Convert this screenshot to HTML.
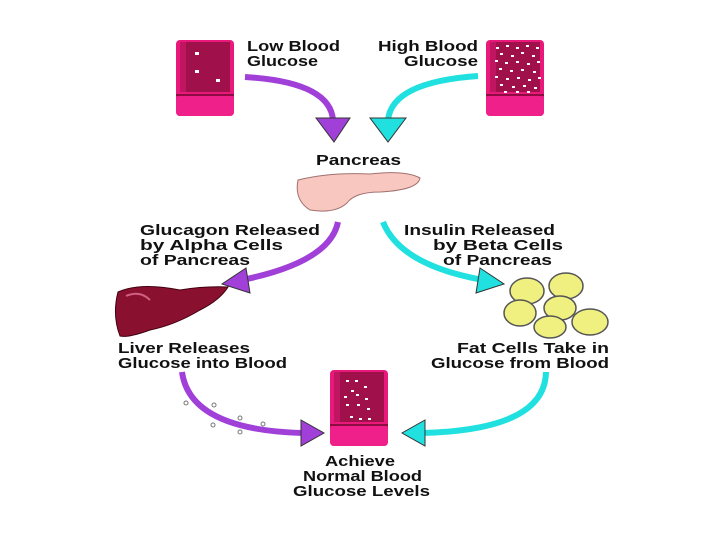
<!DOCTYPE html>
<html><head><style>
body{margin:0;background:#fff;}
svg text{font-family:"Liberation Sans",sans-serif;font-weight:bold;font-size:15px;fill:#111;}
</style></head><body>
<svg width="720" height="540" viewBox="0 0 720 540" xmlns="http://www.w3.org/2000/svg">
<defs>
<g id="tube">
<rect x="0" y="0" width="58" height="76" rx="4" fill="#e8197a"/>
<rect x="4" y="2" width="50" height="50" fill="#a0104a"/>
<rect x="4" y="2" width="6" height="50" fill="#c01560"/>
<rect x="0" y="56" width="58" height="20" rx="4" fill="#f0208a"/>
<line x1="0" y1="55" x2="58" y2="55" stroke="#700830" stroke-width="1.5"/>
</g>
</defs>
<use href="#tube" x="176" y="40"/>
<g fill="#fff"><rect x="195" y="52" width="4" height="3"/><rect x="195" y="70" width="4" height="3"/><rect x="216" y="79" width="4" height="3"/></g>
<use href="#tube" x="486" y="40"/>
<g fill="#fff">
<rect x="496" y="47" width="3" height="2"/><rect x="506" y="45" width="3" height="2"/><rect x="516" y="47" width="3" height="2"/><rect x="526" y="45" width="3" height="2"/><rect x="536" y="47" width="3" height="2"/>
<rect x="500" y="53" width="3" height="2"/><rect x="511" y="55" width="3" height="2"/><rect x="521" y="52" width="3" height="2"/><rect x="532" y="55" width="3" height="2"/>
<rect x="495" y="60" width="3" height="2"/><rect x="505" y="62" width="3" height="2"/><rect x="516" y="61" width="3" height="2"/><rect x="527" y="63" width="3" height="2"/><rect x="537" y="61" width="3" height="2"/>
<rect x="499" y="68" width="3" height="2"/><rect x="510" y="70" width="3" height="2"/><rect x="521" y="69" width="3" height="2"/><rect x="533" y="71" width="3" height="2"/>
<rect x="495" y="76" width="3" height="2"/><rect x="506" y="78" width="3" height="2"/><rect x="517" y="77" width="3" height="2"/><rect x="528" y="79" width="3" height="2"/><rect x="538" y="77" width="3" height="2"/>
<rect x="500" y="84" width="3" height="2"/><rect x="512" y="86" width="3" height="2"/><rect x="523" y="85" width="3" height="2"/><rect x="534" y="87" width="3" height="2"/>
<rect x="504" y="91" width="3" height="2"/><rect x="516" y="91" width="3" height="2"/><rect x="527" y="91" width="3" height="2"/>
</g>
<use href="#tube" x="330" y="370"/>
<g fill="#fff">
<rect x="346" y="380" width="3" height="2"/><rect x="355" y="380" width="3" height="2"/><rect x="351" y="390" width="3" height="2"/><rect x="364" y="386" width="3" height="2"/><rect x="344" y="396" width="3" height="2"/><rect x="356" y="394" width="3" height="2"/><rect x="365" y="398" width="3" height="2"/><rect x="346" y="404" width="3" height="2"/><rect x="357" y="404" width="3" height="2"/><rect x="367" y="408" width="3" height="2"/><rect x="350" y="416" width="3" height="2"/><rect x="359" y="418" width="3" height="2"/><rect x="368" y="418" width="3" height="2"/>
</g>
<!-- labels -->
<text x="247" y="51" textLength="93" lengthAdjust="spacingAndGlyphs">Low Blood</text>
<text x="247" y="66" textLength="71" lengthAdjust="spacingAndGlyphs">Glucose</text>
<text x="378" y="51" textLength="100" lengthAdjust="spacingAndGlyphs">High Blood</text>
<text x="404" y="66" textLength="74" lengthAdjust="spacingAndGlyphs">Glucose</text>
<text x="316" y="165" textLength="85" lengthAdjust="spacingAndGlyphs">Pancreas</text>
<text x="140" y="235" textLength="180" lengthAdjust="spacingAndGlyphs">Glucagon Released</text>
<text x="140" y="250" textLength="143" lengthAdjust="spacingAndGlyphs">by Alpha Cells</text>
<text x="140" y="265" textLength="110" lengthAdjust="spacingAndGlyphs">of Pancreas</text>
<text x="404" y="235" textLength="151" lengthAdjust="spacingAndGlyphs">Insulin Released</text>
<text x="433" y="250" textLength="130" lengthAdjust="spacingAndGlyphs">by Beta Cells</text>
<text x="443" y="265" textLength="109" lengthAdjust="spacingAndGlyphs">of Pancreas</text>
<text x="118" y="353" textLength="132" lengthAdjust="spacingAndGlyphs">Liver Releases</text>
<text x="118" y="368" textLength="169" lengthAdjust="spacingAndGlyphs">Glucose into Blood</text>
<text x="457" y="353" textLength="152" lengthAdjust="spacingAndGlyphs">Fat Cells Take in</text>
<text x="431" y="368" textLength="178" lengthAdjust="spacingAndGlyphs">Glucose from Blood</text>
<text x="325" y="466" textLength="70" lengthAdjust="spacingAndGlyphs">Achieve</text>
<text x="303" y="481" textLength="119" lengthAdjust="spacingAndGlyphs">Normal Blood</text>
<text x="293" y="496" textLength="137" lengthAdjust="spacingAndGlyphs">Glucose Levels</text>
<!-- arrows -->
<g fill="none" stroke-width="6">
<path d="M245 77 Q330 82 333 120" stroke="#a040d8"/>
<path d="M478 76 Q392 82 388 120" stroke="#20e0e0"/>
<path d="M338 222 Q330 262 242 280" stroke="#a040d8"/>
<path d="M383 222 Q400 265 483 280" stroke="#20e0e0"/>
<path d="M182 372 Q190 430 303 433" stroke="#a040d8"/>
<path d="M546 372 Q545 430 422 433" stroke="#20e0e0"/>
</g>
<g stroke="#333" stroke-width="1">
<path d="M316 118 L350 118 L334 142 Z" fill="#a040d8"/>
<path d="M370 118 L406 118 L388 142 Z" fill="#20e0e0"/>
<path d="M246 268 L222 284 L250 293 Z" fill="#a040d8"/>
<path d="M480 268 L504 284 L476 293 Z" fill="#20e0e0"/>
<path d="M301 420 L324 433 L301 446 Z" fill="#a040d8"/>
<path d="M425 420 L402 433 L425 446 Z" fill="#20e0e0"/>
</g>
<g fill="none" stroke="#777" stroke-width="1">
<circle cx="186" cy="403" r="2"/><circle cx="214" cy="405" r="2"/><circle cx="240" cy="418" r="2"/><circle cx="213" cy="425" r="2"/><circle cx="263" cy="424" r="2"/><circle cx="240" cy="432" r="2"/>
</g>
<!-- pancreas -->
<path d="M298 180 Q330 172 370 174 Q405 170 420 178 Q418 190 380 192 Q355 192 347 203 Q335 214 310 210 Q294 200 298 180 Z" fill="#f8c8c0" stroke="#a07070" stroke-width="1"/>
<!-- liver -->
<path d="M118 292 Q140 282 180 290 Q205 286 228 287 Q220 300 200 310 Q175 325 150 330 Q128 338 120 336 Q112 315 118 292 Z" fill="#8a1030" stroke="#400010" stroke-width="1"/>
<path d="M126 296 Q140 290 150 300" stroke="#d06080" stroke-width="2" fill="none"/>
<!-- fat cells -->
<g fill="#f0f080" stroke="#555" stroke-width="1.5">
<ellipse cx="527" cy="291" rx="17" ry="13"/><ellipse cx="566" cy="286" rx="17" ry="13"/>
<ellipse cx="520" cy="313" rx="16" ry="13"/><ellipse cx="560" cy="308" rx="16" ry="12"/>
<ellipse cx="550" cy="327" rx="16" ry="11"/><ellipse cx="590" cy="322" rx="18" ry="13"/>
</g>
</svg>
</body></html>
